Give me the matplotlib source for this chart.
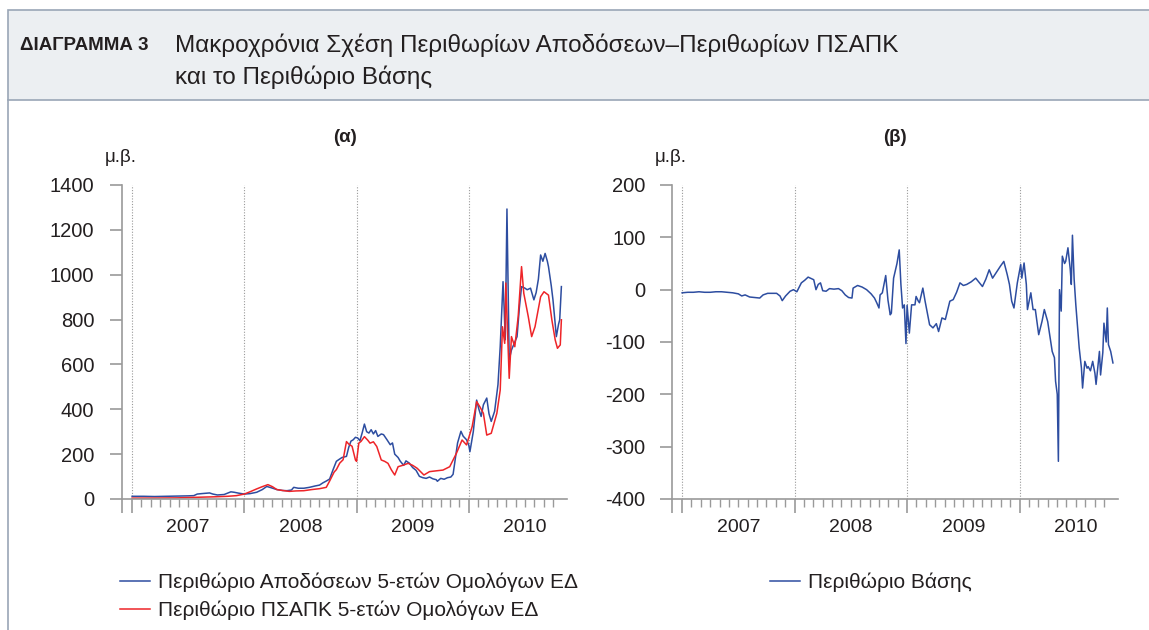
import matplotlib.pyplot as plt
from matplotlib.patches import Rectangle
from matplotlib.lines import Line2D
import numpy as np

plt.rcParams['font.family'] = ['Liberation Sans', 'DejaVu Sans']
plt.rcParams['axes.unicode_minus'] = False

# --- data (decimal years, basis points) ---
yield_t = [2007.00, 2007.10, 2007.20, 2007.30, 2007.40, 2007.50, 2007.55, 2007.58, 2007.62, 2007.69,
           2007.72, 2007.76, 2007.82, 2007.88, 2007.91, 2007.95, 2008.00, 2008.05, 2008.11, 2008.16,
           2008.20, 2008.24, 2008.29, 2008.34, 2008.38, 2008.42, 2008.44, 2008.48, 2008.53, 2008.58,
           2008.63, 2008.67, 2008.70, 2008.73, 2008.76, 2008.79, 2008.82, 2008.84, 2008.87, 2008.91,
           2008.93, 2008.95, 2008.97, 2008.99, 2009.01, 2009.03, 2009.05, 2009.07, 2009.09, 2009.11,
           2009.13, 2009.15, 2009.17, 2009.19, 2009.22, 2009.24, 2009.27, 2009.30, 2009.32, 2009.34,
           2009.37, 2009.39, 2009.42, 2009.44, 2009.47, 2009.50, 2009.53, 2009.56, 2009.59, 2009.62,
           2009.65, 2009.68, 2009.71, 2009.72, 2009.75, 2009.78, 2009.81, 2009.84, 2009.86, 2009.88,
           2009.90, 2009.93, 2009.95, 2009.98, 2010.00, 2010.01, 2010.04, 2010.07, 2010.09, 2010.11,
           2010.13, 2010.16, 2010.18, 2010.20, 2010.23, 2010.26, 2010.28, 2010.305, 2010.315, 2010.325,
           2010.34, 2010.36, 2010.38, 2010.41, 2010.43, 2010.45, 2010.47, 2010.50, 2010.52, 2010.55,
           2010.58, 2010.60, 2010.62, 2010.64, 2010.66, 2010.68, 2010.70, 2010.71, 2010.735, 2010.75,
           2010.77, 2010.78, 2010.80, 2010.81, 2010.825]
yield_spread = [12, 12, 11, 12, 13, 14, 15, 22, 24, 27,
                22, 18, 20, 32, 30, 26, 22, 24, 30, 42,
                56, 50, 42, 38, 37, 40, 52, 48, 48, 52,
                58, 62, 72, 80, 89, 130, 168, 175, 185, 190,
                230, 258, 264, 275, 272, 260, 295, 334, 300, 294,
                309, 290, 305, 279, 290, 287, 265, 242, 250, 200,
                185, 168, 150, 170, 160, 140, 128, 101, 95, 92,
                98, 90, 86, 79, 92, 88, 95, 98, 110, 180,
                250, 302, 280, 264, 240, 211, 300, 441, 400, 368,
                420, 450, 380, 346, 391, 510, 680, 969, 850, 710,
                1293, 620, 664, 700, 724, 850, 947, 940, 933, 940,
                888, 920, 980, 1088, 1060, 1095, 1060, 1036, 950, 888,
                780, 724, 780, 799, 947]

cds_t = [2007.00, 2007.20, 2007.40, 2007.60, 2007.75, 2007.85, 2007.93, 2008.00, 2008.05, 2008.11,
         2008.16, 2008.21, 2008.25, 2008.29, 2008.34, 2008.40, 2008.46, 2008.53, 2008.60, 2008.67,
         2008.73, 2008.76, 2008.80, 2008.82, 2008.85, 2008.88, 2008.91, 2008.93, 2008.96, 2008.99,
         2009.00, 2009.02, 2009.04, 2009.07, 2009.10, 2009.12, 2009.15, 2009.18, 2009.22, 2009.25,
         2009.28, 2009.31, 2009.34, 2009.37, 2009.41, 2009.46, 2009.50, 2009.54, 2009.60, 2009.65,
         2009.70, 2009.77, 2009.83, 2009.89, 2009.94, 2009.98, 2010.03, 2010.07, 2010.10, 2010.13,
         2010.16, 2010.20, 2010.25, 2010.28, 2010.30, 2010.32, 2010.33, 2010.36, 2010.38, 2010.41,
         2010.44, 2010.47, 2010.49, 2010.53, 2010.56, 2010.59, 2010.64, 2010.67, 2010.71, 2010.74,
         2010.77, 2010.79, 2010.815, 2010.825]
cds_spread = [4, 4, 5, 8, 10, 12, 15, 22, 32, 45,
              55, 64, 55, 42, 38, 34, 36, 37, 42, 46,
              52, 80, 120, 131, 160, 175, 256, 245, 235, 174,
              168, 249, 257, 278, 262, 249, 255, 234, 174, 168,
              159, 130, 107, 144, 150, 159, 150, 137, 107, 122,
              125, 129, 144, 204, 263, 241, 323, 434, 410, 382,
              285, 293, 382, 486, 768, 694, 963, 538, 724, 679,
              813, 1036, 917, 813, 724, 768, 902, 924, 909, 799,
              709, 672, 687, 799]

basis_t = [2007.00, 2007.05, 2007.10, 2007.15, 2007.20, 2007.25, 2007.30, 2007.35, 2007.40, 2007.45,
           2007.50, 2007.53, 2007.56, 2007.60, 2007.65, 2007.69, 2007.72, 2007.76, 2007.80, 2007.84,
           2007.87, 2007.89, 2007.92, 2007.96, 2007.99, 2008.02, 2008.06, 2008.09, 2008.12, 2008.15,
           2008.17, 2008.19, 2008.21, 2008.23, 2008.25, 2008.28, 2008.31, 2008.35, 2008.39, 2008.42,
           2008.45, 2008.48, 2008.51, 2008.52, 2008.56, 2008.60, 2008.64, 2008.68, 2008.71, 2008.73,
           2008.75, 2008.76, 2008.78, 2008.81, 2008.83, 2008.85, 2008.86, 2008.88, 2008.91, 2008.93,
           2008.945, 2008.96, 2008.975, 2008.99, 2009.00, 2009.02, 2009.04, 2009.07, 2009.08, 2009.10,
           2009.11, 2009.14, 2009.16, 2009.20, 2009.23, 2009.26, 2009.28, 2009.31, 2009.34, 2009.38,
           2009.41, 2009.44, 2009.47, 2009.50, 2009.53, 2009.57, 2009.61, 2009.64, 2009.67, 2009.70,
           2009.73, 2009.76, 2009.80, 2009.83, 2009.86, 2009.89, 2009.91, 2009.93, 2009.95, 2009.98,
           2010.01, 2010.02, 2010.04, 2010.06, 2010.07, 2010.10, 2010.12, 2010.14, 2010.17, 2010.20,
           2010.22, 2010.25, 2010.29, 2010.31, 2010.32, 2010.335, 2010.345, 2010.355, 2010.37, 2010.38,
           2010.40, 2010.41, 2010.43, 2010.45, 2010.46, 2010.47, 2010.485, 2010.50, 2010.53, 2010.55,
           2010.56, 2010.58, 2010.60, 2010.61, 2010.63, 2010.65, 2010.67, 2010.68, 2010.70, 2010.71,
           2010.72, 2010.74, 2010.75, 2010.77, 2010.78, 2010.79, 2010.81, 2010.83]
basis = [-6, -5, -5, -4, -5, -5, -4, -4, -5, -6,
         -8, -12, -10, -14, -15, -16, -10, -7, -7, -7,
         -12, -21, -12, -3, 0, -4, 13, 18, 24, 21,
         19, 0, 10, 13, -2, -3, 2, 1, 2, -2,
         -10, -15, -16, 3, 8, 5, 0, -8, -16, -25,
         -35, -10, -6, 27, -20, -48, -45, 22, 50, 76,
         10, -35, -29, -103, -30, -83, -29, -29, -13, -22,
         -25, 3, -22, -67, -73, -65, -80, -54, -57, -22,
         -19, -5, 13, 8, 10, 15, 22, 14, 6, 20,
         38, 22, 35, 45, 54, 29, 10, -22, -35, 13,
         48, 22, 51, 10, -38, -6, -38, -38, -86, -60,
         -38, -61, -118, -130, -175, -200, -328, 0, -41, 64,
         50, 54, 80, 40, 10, 104, 20, -29, -111, -150,
         -188, -137, -150, -147, -155, -137, -160, -181, -140, -118,
         -163, -120, -64, -100, -35, -105, -118, -140]

years = [2007, 2008, 2009, 2010]
months = [2007 + k / 12 for k in range(46)]
xlim = (2006.91, 2010.875)

blue = '#2d4da0'
red = '#ee2428'
grey = '#9a9a9a'
txt = '#231f20'

fig = plt.figure(figsize=(11.49, 6.30), dpi=100)

# header band and frame
fig.patches.append(Rectangle((8 / 1149, 1 - 100 / 630), 1.0, 90 / 630, transform=fig.transFigure,
                             facecolor='#eceff2', edgecolor='#9aa6b6', lw=1.2, zorder=0))
fig.add_artist(Line2D([8 / 1149, 8 / 1149], [0, 1 - 100 / 630], transform=fig.transFigure,
                      color='#9aa6b6', lw=1.2))
fig.text(20 / 1149, 1 - 46 / 630, 'ΔΙΑΓΡΑΜΜΑ 3', fontsize=13.5, fontweight='bold', color=txt, va='center')
fig.text(175 / 1149, 1 - 45 / 630, 'Μακροχρόνια Σχέση Περιθωρίων Αποδόσεων–Περιθωρίων ΠΣΑΠΚ',
         fontsize=17.5, color=txt, va='center')
fig.text(175 / 1149, 1 - 77 / 630, 'και το Περιθώριο Βάσης', fontsize=17.5, color=txt, va='center')

ax1 = fig.add_axes([122 / 1149, 131 / 630, 445 / 1149, 314 / 630])
ax2 = fig.add_axes([672 / 1149, 131 / 630, 446 / 1149, 314 / 630])

l1, = ax1.plot(yield_t, yield_spread, color=blue, lw=1.1, label='Περιθώριο Αποδόσεων 5-ετών Ομολόγων ΕΔ')
l2, = ax1.plot(cds_t, cds_spread, color=red, lw=1.1, label='Περιθώριο ΠΣΑΠΚ 5-ετών Ομολόγων ΕΔ')
l3, = ax2.plot(basis_t, basis, color=blue, lw=1.1, label='Περιθώριο Βάσης')

ax1.set_ylim(0, 1400)
ax1.set_yticks(np.arange(0, 1401, 200))
ax2.set_ylim(-400, 200)
ax2.set_yticks(np.arange(-400, 201, 100))

for ax, ttl, pad in [(ax1, '(α)', 11), (ax2, '(β)', 10)]:
    ax.set_xlim(*xlim)
    for s in ['top', 'right']:
        ax.spines[s].set_visible(False)
    for s in ['left', 'bottom']:
        ax.spines[s].set_color(grey)
        ax.spines[s].set_linewidth(1.2)
    for y in years:
        ax.axvline(y, color=grey, lw=0.8, ls=(0, (1, 1.5)), zorder=0)
    ax.set_xticks([xlim[0]] + years)
    ax.set_xticks(months, minor=True)
    ax.set_xticklabels([])
    ax.tick_params(axis='x', which='major', length=10, width=1.2, color=grey, direction='out')
    ax.tick_params(axis='x', which='minor', length=6, width=1.0, color=grey, direction='out')
    ax.tick_params(axis='y', length=9, width=1.2, color=grey, labelsize=14.5, labelcolor=txt, pad=pad)
    for y in years:
        ax.text(y + 0.5, -0.092, str(y), transform=ax.get_xaxis_transform(),
                ha='center', va='center', fontsize=14, color=txt)
    ax.text(0.5, 1.15, ttl, transform=ax.transAxes, ha='center', va='center',
            fontsize=13.5, fontweight='bold', color=txt)

fig.text(105 / 1149, 1 - 158 / 630, 'μ.β.', fontsize=13.5, color=txt, va='center')
fig.text(655 / 1149, 1 - 158 / 630, 'μ.β.', fontsize=13.5, color=txt, va='center')

leg_kw = dict(frameon=False, fontsize=15, handlelength=1.45, handletextpad=0.35,
              borderpad=0, borderaxespad=0, labelspacing=0.4, labelcolor=txt,
              bbox_transform=fig.transFigure, loc='upper left')
fig.legend(handles=[l1, l2], bbox_to_anchor=(120 / 1149, 1 - 573 / 630), **leg_kw)
fig.legend(handles=[l3], bbox_to_anchor=(770 / 1149, 1 - 573 / 630), **leg_kw)

fig.savefig('out.png', dpi=100)
